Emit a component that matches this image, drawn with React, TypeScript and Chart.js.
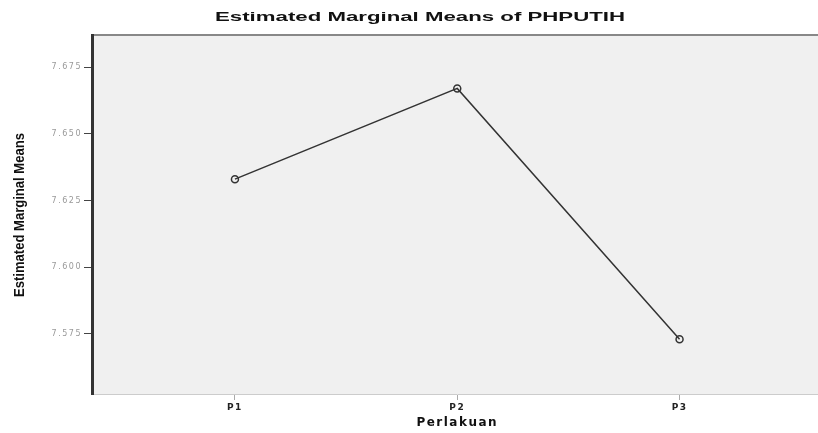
import React, { useEffect, useRef } from "react";
import { Chart, registerables } from "chart.js";

Chart.register(...registerables);

const categories = ["P1", "P2", "P3"];
const meanValues = [7.633, 7.667, 7.573];
const yTickValues = [7.575, 7.6, 7.625, 7.65, 7.675];
const chartTitle = "Estimated Marginal Means of PHPUTIH";
const yAxisTitle = "Estimated Marginal Means";
const xAxisTitle = "Perlakuan";

const FONT = "Arial, 'Liberation Sans', sans-serif";
const WIDE = "'DejaVu Sans', Arial, sans-serif";

const decorPlugin = {
  id: "decor",
  beforeDraw(chart: any) {
    const { ctx, chartArea } = chart;
    ctx.save();
    ctx.fillStyle = "#f0f0f0";
    ctx.fillRect(chartArea.left, chartArea.top, chartArea.right - chartArea.left, chartArea.bottom - chartArea.top);
    ctx.strokeStyle = "#888";
    ctx.lineWidth = 2;
    ctx.beginPath();
    ctx.moveTo(chartArea.left, chartArea.top);
    ctx.lineTo(chartArea.right, chartArea.top);
    ctx.stroke();
    ctx.restore();
    (ctx as any).letterSpacing = "1.5px";
  },
  afterDraw(chart: any) {
    const { ctx } = chart;
    (ctx as any).letterSpacing = "0px";
    ctx.save();
    ctx.fillStyle = "#111";
    ctx.font = `bold 13px ${FONT}`;
    ctx.textAlign = "center";
    ctx.textBaseline = "middle";
    const w = ctx.measureText(chartTitle).width;
    ctx.translate(420, 17);
    ctx.scale(410 / w, 1);
    ctx.fillText(chartTitle, 0, 0);
    ctx.restore();
    ctx.save();
    ctx.fillStyle = "#111";
    ctx.textAlign = "center";
    ctx.textBaseline = "middle";
    ctx.translate(20, 215);
    ctx.rotate(-Math.PI / 2);
    ctx.font = `bold 13px ${FONT}`;
    const w2 = ctx.measureText(yAxisTitle).width;
    ctx.scale(164 / w2, 1.15);
    ctx.fillText(yAxisTitle, 0, 0);
    ctx.restore();
  },
};

export default function App() {
  const ref = useRef<HTMLCanvasElement>(null);
  useEffect(() => {
    if (!ref.current) return;
    const chart = new Chart(ref.current, {
      type: "line",
      data: {
        datasets: [
          {
            data: meanValues.map((v, i) => ({ x: i + 1, y: v })),
            borderColor: "#333",
            borderWidth: 1.5,
            pointRadius: 3.5,
            pointBorderColor: "#333",
            pointBackgroundColor: "transparent",
            pointBorderWidth: 1.5,
            tension: 0,
          },
        ],
      },
      options: {
        animation: false,
        responsive: false,
        layout: { padding: { left: 0, right: 0, top: 35, bottom: 0 } },
        plugins: {
          legend: { display: false },
          tooltip: { enabled: false },
          title: { display: false },
        },
        scales: {
          x: {
            type: "linear",
            min: 0.357,
            max: 3.643,
            afterBuildTicks(scale: any) {
              scale.ticks = categories.map((_, i) => ({ value: i + 1 }));
            },
            grid: { drawOnChartArea: false, tickColor: "#aaa", tickLength: 6 },
            border: { color: "#ccc", width: 1 },
            ticks: {
              color: "#222",
              font: { family: WIDE, size: 9, weight: "bold" },
              padding: 2,
              callback: (v: any) => categories[Math.round(Number(v)) - 1] ?? "",
            },
            title: {
              display: true,
              text: xAxisTitle,
              color: "#111",
              font: { family: WIDE, size: 12, weight: "bold" },
              padding: { top: 4, bottom: 3 },
            },
            afterFit(scale: any) {
              scale.height = 39;
            },
          },
          y: {
            min: 7.5525,
            max: 7.687,
            afterBuildTicks(scale: any) {
              scale.ticks = yTickValues.map((v) => ({ value: v }));
            },
            grid: { drawOnChartArea: false, tickColor: "#444", tickLength: 8 },
            border: { color: "#333", width: 3 },
            ticks: {
              color: "#999",
              font: { family: WIDE, size: 8 },
              padding: 2,
              callback: (v: any) => Number(v).toFixed(3),
            },
            title: { display: false },
            afterFit(scale: any) {
              scale.width = 92;
            },
          },
        },
      },
      plugins: [decorPlugin],
    });
    return () => chart.destroy();
  }, []);
  return (
    <div style={{ position: "absolute", left: 0, top: 0, width: 818, height: 433, overflow: "hidden", background: "#fff" }}>
      <canvas ref={ref} width={828} height={433} style={{ display: "block" }} />
    </div>
  );
}
